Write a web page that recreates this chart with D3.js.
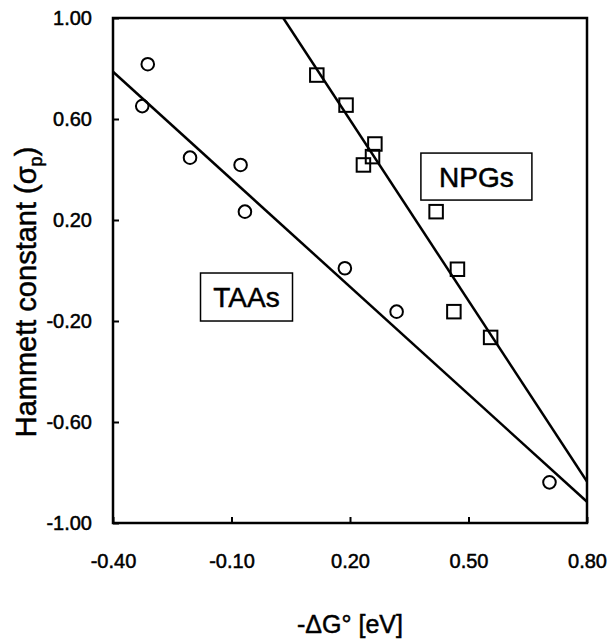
<!DOCTYPE html>
<html>
<head>
<meta charset="utf-8">
<script src="https://cdn.jsdelivr.net/npm/d3@7"></script>
<style>
  body { margin: 0; background: #fff; }
  text { font-family: "Liberation Sans", Arial, Helvetica, sans-serif; fill: #000; stroke: #000; stroke-width: 0.5px; }
</style>
</head>
<body>
<div id="chart"></div>
<script>
// TAAs (circles) and NPGs (squares): -dG (eV) vs Hammett sigma_p
const taaX = [-0.326, -0.312, -0.205, -0.077, -0.066, 0.187, 0.318, 0.705];
const taaY = [0.651, 0.817, 0.447, 0.418, 0.233, 0.009, -0.163, -0.839];
const npgX = [0.116, 0.190, 0.234, 0.257, 0.263, 0.418, 0.472, 0.463, 0.556];
const npgY = [0.774, 0.655, 0.418, 0.451, 0.501, 0.233, 0.005, -0.163, -0.265];
// fitted lines (end points)
const taaFitX = [-0.40, 0.80];
const taaFitY = [0.787, -0.916];
const npgFitX = [0.031, 0.80];
const npgFitY = [1.00, -0.836];
const xTicks = [-0.40, -0.10, 0.20, 0.50, 0.80];
const yTicks = [1.00, 0.60, 0.20, -0.20, -0.60, -1.00];
const seriesLabels = ["TAAs", "NPGs"];

const width = 613, height = 644;
const mLeft = 113, mRight = 587, mTop = 18, mBottom = 523;

const svg = d3.select("#chart")
  .append("svg")
  .attr("width", width)
  .attr("height", height);

const x = d3.scaleLinear().domain([-0.4, 0.8]).range([mLeft, mRight]);
const y = d3.scaleLinear().domain([-1, 1]).range([mBottom, mTop]);

// plain hyphen for negatives, like the original
const fmt = d => d.toFixed(2);

// axes with inward ticks
const yAxis = svg.append("g")
  .attr("transform", `translate(${mLeft},0)`)
  .call(d3.axisLeft(y).tickValues(yTicks).tickFormat(fmt)
    .tickSize(-6).tickPadding(21));
const xAxis = svg.append("g")
  .attr("transform", `translate(0,${mBottom})`)
  .call(d3.axisBottom(x).tickValues(xTicks).tickFormat(fmt)
    .tickSize(-6).tickPadding(31));
[xAxis, yAxis].forEach(g => {
  g.select(".domain").remove();
  g.selectAll(".tick line").attr("stroke", "#000").attr("stroke-width", 2);
  g.selectAll(".tick text").attr("font-size", 20)
    .attr("font-family", "Liberation Sans, Arial, sans-serif");
});

// frame
svg.append("rect")
  .attr("x", mLeft).attr("y", mTop)
  .attr("width", mRight - mLeft).attr("height", mBottom - mTop)
  .attr("fill", "none").attr("stroke", "#000").attr("stroke-width", 2.5);

// fit lines, clipped to the plot area
svg.append("clipPath").attr("id", "plot")
  .append("rect").attr("x", mLeft).attr("y", mTop)
  .attr("width", mRight - mLeft).attr("height", mBottom - mTop);

const line = d3.line().x(d => x(d[0])).y(d => y(d[1]));
[[taaFitX, taaFitY], [npgFitX, npgFitY]].forEach(([xs, ys]) => {
  svg.append("path")
    .datum(xs.map((v, i) => [v, ys[i]]))
    .attr("d", line)
    .attr("clip-path", "url(#plot)")
    .attr("fill", "none")
    .attr("stroke", "#000")
    .attr("stroke-width", 2.5);
});

// circles for TAAs
svg.selectAll("circle.taa")
  .data(taaX.map((v, i) => [v, taaY[i]]))
  .enter()
  .append("circle")
  .attr("class", "taa")
  .attr("cx", d => x(d[0]))
  .attr("cy", d => y(d[1]))
  .attr("r", 6.3)
  .attr("fill", "none")
  .attr("stroke", "#000")
  .attr("stroke-width", 2);

// squares for NPGs
const sq = 13.5;
svg.selectAll("rect.npg")
  .data(npgX.map((v, i) => [v, npgY[i]]))
  .enter()
  .append("rect")
  .attr("class", "npg")
  .attr("x", d => x(d[0]) - sq / 2)
  .attr("y", d => y(d[1]) - sq / 2)
  .attr("width", sq)
  .attr("height", sq)
  .attr("fill", "none")
  .attr("stroke", "#000")
  .attr("stroke-width", 2);

// boxed series labels
const labelPos = [[-0.062, -0.105, 92, 48], [0.520, 0.372, 111, 47]];
seriesLabels.forEach((t, i) => {
  const [lx, ly, w, h] = labelPos[i];
  const cx = x(lx), cy = y(ly);
  svg.append("rect")
    .attr("x", cx - w / 2).attr("y", cy - h / 2)
    .attr("width", w).attr("height", h)
    .attr("fill", "#fff").attr("stroke", "#000").attr("stroke-width", 1.5);
  svg.append("text")
    .attr("x", cx).attr("y", cy + 10)
    .attr("text-anchor", "middle")
    .attr("font-size", 28)
    .text(t);
});

// axis titles
svg.append("text")
  .attr("x", (mLeft + mRight) / 2).attr("y", 633)
  .attr("text-anchor", "middle")
  .attr("font-size", 25)
  .text("-ΔG° [eV]");

const yt = svg.append("text")
  .attr("transform", "translate(36,292) rotate(-90)")
  .attr("text-anchor", "middle")
  .attr("font-size", 29);
yt.append("tspan").text("Hammett constant (σ");
yt.append("tspan").attr("font-size", 18).attr("dy", 6).text("p");
yt.append("tspan").attr("dy", -6).text(")");
</script>
</body>
</html>
